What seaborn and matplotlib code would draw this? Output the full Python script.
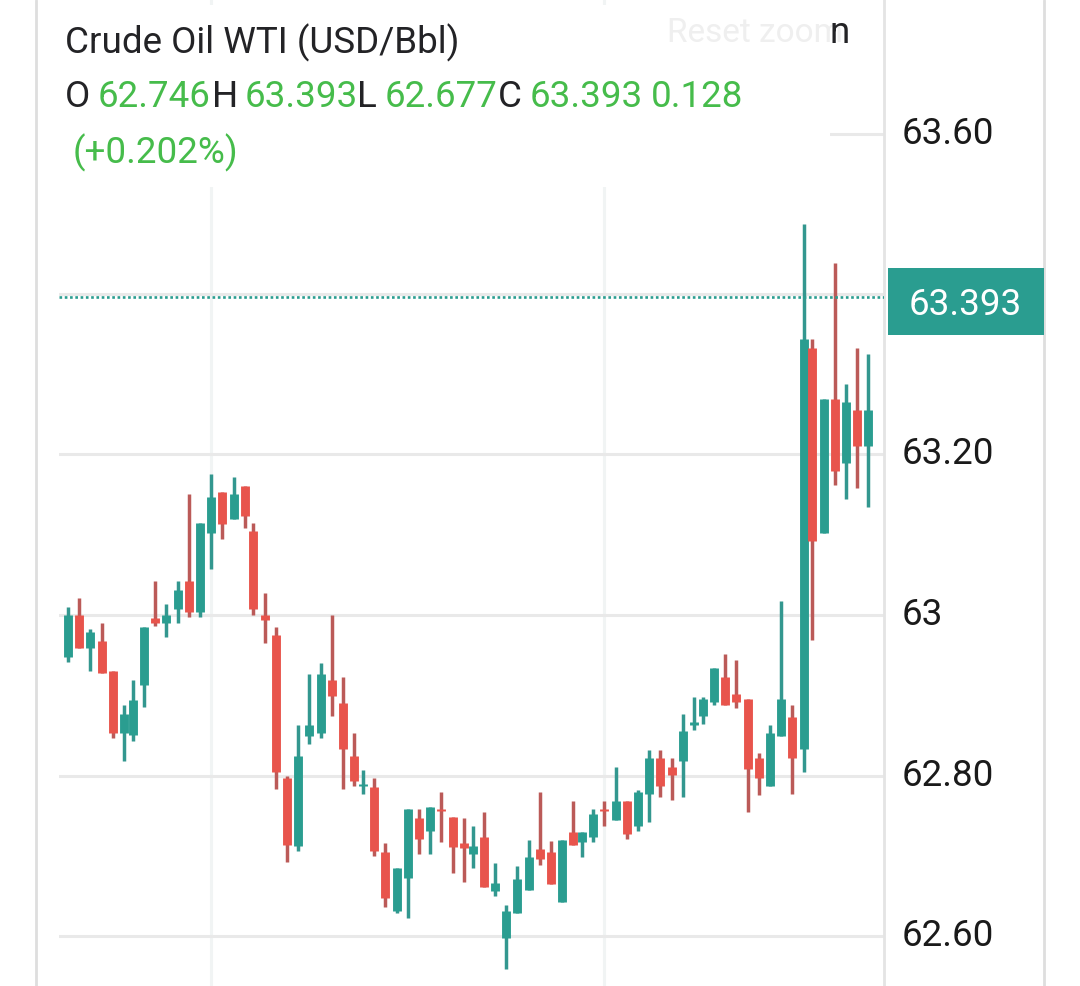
"""WTI crude intraday candles, drawn with seaborn line marks."""

import matplotlib

matplotlib.use("Agg")

import matplotlib.pyplot as plt
import numpy as np
import pandas as pd
import seaborn as sns
from matplotlib.lines import Line2D
from matplotlib.patches import Rectangle

TITLE = "Crude Oil WTI (USD/Bbl)"
LAST_PRICE = 63.393
LAST_LINE_LEVEL = 63.396  # where the dotted line sits on the picture's axis
PRICE_TICKS = [62.6, 62.8, 63.0, 63.2, 63.4, 63.6]
PRICE_LABELS = ["62.60", "62.80", "63", "63.20", "", "63.60"]

# the feed compresses a few bar steps, these bars come early
SHORT_STEP_BARS = [6, 17, 27, 37, 47, 58, 68]
TIME_GRID_BARS = [13, 49]

opens = [
    62.948, 63.000, 62.959, 62.968, 62.930, 62.853, 62.850, 62.913, 62.996, 62.990,
    63.007, 63.042, 63.004, 63.102, 63.153, 63.120, 63.161, 63.105, 63.000, 62.975,
    62.797, 62.712, 62.849, 62.853, 62.919, 62.890, 62.824, 62.787, 62.786, 62.705,
    62.631, 62.672, 62.747, 62.731, 62.758, 62.748, 62.716, 62.702, 62.723, 62.656,
    62.598, 62.629, 62.657, 62.708, 62.705, 62.642, 62.730, 62.717, 62.723, 62.758,
    62.745, 62.768, 62.737, 62.777, 62.822, 62.811, 62.818, 62.863, 62.874, 62.892,
    62.923, 62.902, 62.895, 62.822, 62.787, 62.849, 62.873, 62.833, 63.333, 63.102,
    63.269, 63.189, 63.255, 63.211,
]
highs = [
    63.010, 63.021, 62.983, 62.990, 62.930, 62.888, 62.919, 62.985, 63.042, 63.014,
    63.042, 63.151, 63.115, 63.176, 63.153, 63.172, 63.161, 63.115, 63.027, 62.985,
    62.799, 62.863, 62.926, 62.940, 63.000, 62.923, 62.853, 62.807, 62.797, 62.716,
    62.685, 62.758, 62.758, 62.761, 62.779, 62.748, 62.747, 62.737, 62.755, 62.691,
    62.639, 62.687, 62.720, 62.779, 62.718, 62.720, 62.768, 62.730, 62.758, 62.768,
    62.811, 62.768, 62.782, 62.832, 62.832, 62.822, 62.877, 62.898, 62.898, 62.934,
    62.951, 62.944, 62.895, 62.828, 62.863, 63.017, 62.888, 63.487, 63.344, 63.269,
    63.439, 63.288, 63.333, 63.325,
]
lows = [
    62.941, 62.959, 62.930, 62.928, 62.847, 62.818, 62.843, 62.885, 62.986, 62.973,
    62.990, 62.998, 62.998, 63.057, 63.095, 63.120, 63.108, 63.000, 62.965, 62.783,
    62.692, 62.706, 62.839, 62.847, 62.874, 62.783, 62.787, 62.777, 62.700, 62.636,
    62.629, 62.622, 62.702, 62.702, 62.717, 62.679, 62.667, 62.685, 62.661, 62.650,
    62.559, 62.629, 62.657, 62.688, 62.665, 62.642, 62.713, 62.698, 62.717, 62.737,
    62.745, 62.721, 62.731, 62.742, 62.773, 62.769, 62.773, 62.857, 62.864, 62.888,
    62.888, 62.884, 62.755, 62.776, 62.787, 62.849, 62.777, 62.804, 62.969, 63.102,
    63.162, 63.145, 63.158, 63.135,
]
closes = [
    63.000, 62.959, 62.979, 62.928, 62.853, 62.877, 62.894, 62.985, 62.990, 63.000,
    63.031, 63.004, 63.115, 63.147, 63.113, 63.151, 63.123, 63.007, 62.994, 62.804,
    62.713, 62.824, 62.863, 62.926, 62.899, 62.833, 62.793, 62.789, 62.706, 62.647,
    62.685, 62.758, 62.721, 62.761, 62.756, 62.711, 62.710, 62.712, 62.661, 62.666,
    62.631, 62.671, 62.698, 62.696, 62.665, 62.720, 62.713, 62.730, 62.752, 62.756,
    62.768, 62.727, 62.779, 62.822, 62.787, 62.801, 62.855, 62.867, 62.895, 62.934,
    62.888, 62.892, 62.808, 62.797, 62.853, 62.895, 62.822, 63.344, 63.092, 63.269,
    63.179, 63.265, 63.211, 63.255,
]

FIG_W, FIG_H = 1080, 986
UP = "#2a9d90"
DOWN = "#e8544c"
UP_WICK = "#33978f"
DOWN_WICK = "#bb5a58"
GRID = "#e9e9e9"
TIME_GRID = "#f1f4f4"
GREEN = "#46bc4b"
INK = "#232326"
TEXT_SIZE = 26.5


def fx(px):
    return px / FIG_W


def fy(px):
    return 1 - px / FIG_H


def figure_text(fig, px, py, text, color=INK, size=TEXT_SIZE, **kwargs):
    fig.text(fx(px), fy(py), text, color=color, fontsize=size, va="center", **kwargs)


sns.set_theme(style="white", font="Roboto")

steps = np.ones(len(opens) - 1)
steps[np.array(SHORT_STEP_BARS) - 1] = 0.78
bar_pos = np.concatenate([[0.0], np.cumsum(steps)])

candles = pd.DataFrame({"pos": bar_pos, "open": opens, "high": highs, "low": lows, "close": closes})
candles["bar"] = candles.index
candles["side"] = np.where(candles["close"] >= candles["open"], "up", "down")

wicks = candles.melt(id_vars=["bar", "pos", "side"], value_vars=["low", "high"], value_name="price")
bodies = candles.melt(id_vars=["bar", "pos", "side"], value_vars=["open", "close"], value_name="price")

fig = plt.figure(figsize=(FIG_W / 100, FIG_H / 100), dpi=100)
ax = fig.add_axes([fx(59), 0, fx(884 - 59), 1])

sns.lineplot(
    data=wicks, x="pos", y="price", hue="side", units="bar", estimator=None,
    hue_order=["up", "down"], palette={"up": UP_WICK, "down": DOWN_WICK},
    linewidth=2.5, legend=False, ax=ax, zorder=3, solid_capstyle="butt",
)
sns.lineplot(
    data=bodies, x="pos", y="price", hue="side", units="bar", estimator=None,
    hue_order=["up", "down"], palette={"up": UP, "down": DOWN},
    linewidth=6.4, legend=False, ax=ax, zorder=4, solid_capstyle="butt",
)

ax.set_xlim(-9 / 11.2, (884 - 68) / 11.2)
ax.set_ylim(63 + (615 - FIG_H) / 802.5, 63 + 615 / 802.5)
ax.set_xlabel("")
ax.set_ylabel("")
ax.set_xticks(bar_pos[TIME_GRID_BARS])
ax.set_xticklabels([])
ax.yaxis.tick_right()
ax.set_yticks(PRICE_TICKS)
ax.set_yticklabels(PRICE_LABELS, va="center")
ax.tick_params(axis="y", length=8, width=1.8, color="#dcdcdc", pad=4.5, labelsize=TEXT_SIZE, labelcolor="#1a1a1a")
ax.tick_params(axis="x", length=0)
ax.yaxis.grid(True, color=GRID, linewidth=2.2, zorder=1)
ax.xaxis.grid(True, color=TIME_GRID, linewidth=2.2, zorder=1)
ax.set_axisbelow(True)
sns.despine(ax=ax, left=True, top=True, bottom=True, right=False)
ax.spines["right"].set_color("#e4e4e4")
ax.spines["right"].set_linewidth(2)

ax.axhline(LAST_LINE_LEVEL, color=UP, linewidth=1.9, linestyle=(0, (1, 1)), zorder=5)

# white header panel masks the grid behind the title lines
fig.add_artist(Rectangle((fx(45), fy(187)), fx(785), fy(5) - fy(187), transform=fig.transFigure,
                         facecolor="white", edgecolor="none", zorder=2))

for edge in (36, 1044):
    fig.add_artist(Line2D([fx(edge), fx(edge)], [0, 1], color="#dedede", linewidth=2))

fig.add_artist(Rectangle((fx(888), fy(335)), fx(1044 - 888), fy(268) - fy(335), transform=fig.transFigure,
                         facecolor=UP, edgecolor="none", zorder=6))
text_kw = {"zorder": 7}
figure_text(fig, 965, 305, f"{LAST_PRICE:.3f}", color="white", ha="center", **text_kw)

figure_text(fig, 65, 43, TITLE, **text_kw)
row_y = 97
for px, text, color in [
    (65, "O", INK), (98, "62.746", GREEN), (212, "H", INK), (245, "63.393", GREEN),
    (357, "L", INK), (385, "62.677", GREEN), (498, "C", INK), (530, "63.393", GREEN),
    (651, "0.128", GREEN),
]:
    figure_text(fig, px, row_y, text, color=color, **text_kw)
figure_text(fig, 73, 153, "(+0.202%)", color=GREEN, **text_kw)
figure_text(fig, 667, 33, "Reset zoom", color="#efefef", size=24, **text_kw)
figure_text(fig, 829, 33, "n", **text_kw)

fig.savefig("out.png", dpi=100, facecolor="white")
